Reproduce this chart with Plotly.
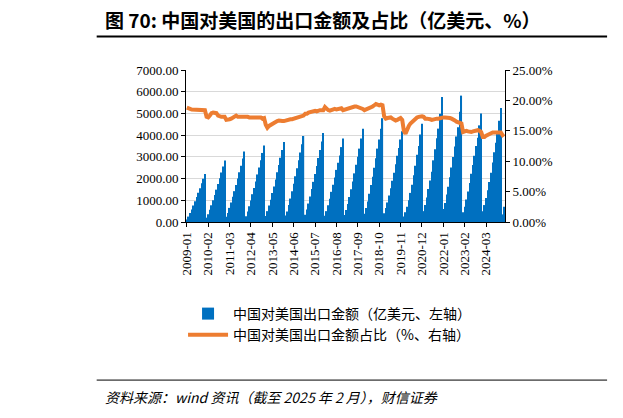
import plotly.graph_objects as go

years = list(range(2009, 2025))
export_cum = [
    [120,250,420,580,760,950,1150,1350,1560,1780,1990,2210],
    [200,360,560,770,1000,1240,1490,1750,2010,2280,2560,2830],
    [240,420,650,900,1160,1420,1700,2000,2290,2590,2920,3250],
    [260,480,730,990,1280,1570,1870,2190,2510,2840,3180,3520],
    [280,500,760,1030,1340,1640,1960,2290,2620,2960,3320,3680],
    [300,480,780,1080,1420,1760,2110,2480,2840,3200,3580,3960],
    [330,580,850,1170,1520,1850,2210,2580,2950,3320,3710,4100],
    [290,500,770,1070,1390,1720,2050,2400,2730,3060,3450,3850],
    [320,550,830,1150,1510,1870,2240,2640,3010,3380,3840,4300],
    [380,640,940,1300,1700,2080,2500,2940,3380,3800,4300,4780],
    [400,640,900,1220,1560,1900,2270,2660,3050,3410,3800,4180],
    [250,450,700,1000,1340,1710,2150,2590,3100,3500,4030,4520],
    [500,780,1130,1520,1910,2310,2840,3350,3860,4300,4990,5760],
    [600,880,1270,1620,2060,2510,2990,3480,3940,4360,5080,5820],
    [450,700,1040,1400,1800,2220,2620,3050,3500,3880,4450,5000],
    [500,780,1100,1460,1840,2270,2740,3210,3650,4050,4660,5250],
]
share = [
    [18.8,18.6,18.6,18.5,18.5,18.5,18.5,18.5,18.5,18.5,18.4,18.4],
    [17.3,17.2,17.5,17.9,18.0,18.0,17.9,17.5,17.3,17.3,17.3,17.3],
    [16.8,16.8,16.9,17.0,17.2,17.3,17.5,17.3,17.3,17.4,17.3,17.3],
    [17.3,17.3,17.2,17.2,17.2,17.2,17.2,17.1,17.2,17.2,17.0,17.1],
    [16.0,15.5,15.8,16.0,16.2,16.3,16.4,16.6,16.7,16.6,16.6,16.6],
    [16.7,16.7,16.8,16.9,16.9,17.0,17.0,17.1,17.2,17.3,17.5,17.5],
    [17.8,17.8,18.0,18.1,18.2,18.2,18.3,18.2,18.4,18.4,18.4,18.4],
    [18.9,18.6,18.4,18.3,18.4,18.5,18.6,18.5,18.6,18.6,18.7,18.4],
    [18.5,18.5,18.6,18.7,18.8,18.9,19.0,19.0,18.9,18.9,18.8,18.6],
    [18.4,18.5,18.6,18.8,18.9,19.0,19.2,19.4,19.3,19.2,19.3,19.2],
    [17.4,17.0,17.1,17.2,17.2,17.0,16.8,16.7,16.8,17.0,17.1,16.8],
    [15.0,14.5,15.3,15.8,16.2,16.5,16.8,17.0,17.2,17.3,17.4,17.4],
    [17.3,17.0,17.0,17.0,16.9,16.8,16.9,17.0,17.0,17.0,17.1,17.1],
    [17.2,17.2,17.2,17.1,17.1,17.0,16.9,16.7,16.5,16.3,16.3,16.2],
    [14.8,14.9,15.0,14.9,14.8,14.8,14.9,15.0,15.1,15.1,15.0,14.8],
    [14.0,14.0,14.2,14.4,14.5,14.6,14.7,14.7,14.7,14.7,14.7,14.7],
]
export_2025 = [350, 700]
share_2025 = [14.3, 14.5]

months, exports, shares = [], [], []
for y, ev, sv in zip(years, export_cum, share):
    for m in range(12):
        months.append(f"{y}-{m+1:02d}")
        exports.append(ev[m]); shares.append(sv[m] / 100)
for m in range(2):
    months.append(f"2025-{m+1:02d}")
    exports.append(export_2025[m]); shares.append(share_2025[m] / 100)

serif = "Liberation Serif"
fig = go.Figure()
fig.add_trace(go.Bar(x=months, y=exports, name="中国对美国出口金额（亿美元、左轴）",
                     marker_color="#0070C0", marker_line_width=0))
fig.add_trace(go.Scatter(x=months, y=shares, name="中国对美国出口金额占比（%、右轴）", yaxis="y2",
                         mode="lines", line=dict(color="#ED7D31", width=4)))
fig.update_layout(
    width=623, height=418, margin=dict(l=178, r=126, t=62, b=204),
    paper_bgcolor="white", plot_bgcolor="white", bargap=0.25, showlegend=True,
    xaxis=dict(type="category", tickvals=months[::13], ticktext=months[::13], tickangle=-90,
               tickfont=dict(family=serif, size=13, color="black"), showline=True,
               linecolor="black", ticks="outside", ticklen=4, tickcolor="black"),
    yaxis=dict(range=[0, 7000], dtick=1000, tickformat=".2f", gridcolor="#D9D9D9",
               tickfont=dict(family=serif, size=13, color="black"), showline=True, linecolor="black",
               ticks="outside", ticklen=4, tickcolor="black"),
    yaxis2=dict(range=[0, 0.25], dtick=0.05, tickformat=".2%", overlaying="y", side="right",
                showgrid=False, tickfont=dict(family=serif, size=13, color="black"),
                showline=True, linecolor="black", ticks="outside", ticklen=4, tickcolor="black"),
    legend=dict(x=0.45, y=-0.5, xanchor="center", yanchor="top", orientation="v", tracegroupgap=8,
                font=dict(family="Noto Sans CJK SC", size=14, color="black"), itemwidth=40),
)
fig.add_annotation(text="<b>图 70: 中国对美国的出口金额及占比（亿美元、%）</b>", xref="paper", yref="paper",
                   x=-0.26, y=1.33, xanchor="left", yanchor="middle", showarrow=False,
                   font=dict(family="Noto Sans CJK SC", size=19, color="black"))
fig.add_annotation(text="<i>资料来源：wind 资讯（截至 2025 年 2 月），财信证券</i>", xref="paper", yref="paper",
                   x=-0.26, y=-1.15, xanchor="left", yanchor="middle", showarrow=False,
                   font=dict(family="Noto Sans CJK SC", size=14, color="black"))
fig.add_shape(type="line", xref="paper", yref="paper", x0=-0.28, x1=1.32, y0=1.22, y1=1.22,
              line=dict(color="black", width=2))
fig.add_shape(type="line", xref="paper", yref="paper", x0=-0.28, x1=1.32, y0=-1.04, y1=-1.04,
              line=dict(color="black", width=1))
fig.write_html("out.html")
